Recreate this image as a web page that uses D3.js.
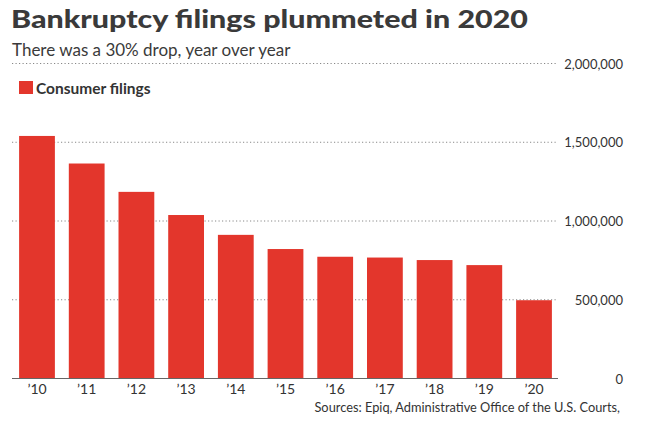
<!DOCTYPE html>
<html>
<head>
<meta charset="utf-8">
<script src="https://cdn.jsdelivr.net/npm/d3@7"></script>
<style>
  html, body { margin: 0; padding: 0; background: #fff; }
  svg { display: block; }
  text { font-family: Lato, "Open Sans", sans-serif; fill: #333; }
</style>
</head>
<body>
<svg id="chart" width="666" height="428"></svg>
<script>
const years = ["’10", "’11", "’12", "’13", "’14", "’15", "’16", "’17", "’18", "’19", "’20"];
const consumerFilings = [1540000, 1365000, 1185000, 1038000, 912000, 822000, 773000, 768000, 752000, 720000, 497000];
const yTicks = [0, 500000, 1000000, 1500000, 2000000];
const yTickLabels = ["0", "500,000", "1,000,000", "1,500,000", "2,000,000"];
const titleText = "Bankruptcy filings plummeted in 2020";
const subtitleText = "There was a 30% drop, year over year";
const legendText = "Consumer filings";
const sourceText = "Sources: Epiq, Administrative Office of the U.S. Courts,";

const svg = d3.select("#chart");
const barColor = "#e3362c";

const x = d3.scaleBand().domain(years).range([12, 559]).paddingInner(0.28).paddingOuter(0.143);
const y = d3.scaleLinear().domain([0, 2000000]).range([378.5, 63.5]);

// gridlines
svg.append("g").selectAll("line").data(yTicks.filter(d => d > 0)).join("line")
  .attr("x1", 12).attr("x2", 558)
  .attr("y1", d => y(d)).attr("y2", d => y(d))
  .attr("stroke", "#888").attr("stroke-width", 1).attr("stroke-dasharray", "1.2,2.3");

// bars
svg.append("g").selectAll("rect").data(consumerFilings).join("rect")
  .attr("x", (d, i) => x(years[i]))
  .attr("width", x.bandwidth())
  .attr("y", d => y(d))
  .attr("height", d => y(0) - y(d))
  .attr("fill", barColor);

// baseline
svg.append("line").attr("x1", 12).attr("x2", 558).attr("y1", y(0)).attr("y2", y(0))
  .attr("stroke", "#666").attr("stroke-width", 1.2);

// x axis labels
const xAxis = d3.axisBottom(x).tickSize(0).tickPadding(0);
const gx = svg.append("g").attr("transform", `translate(0, ${y(0) + 11})`).call(xAxis);
gx.select(".domain").remove();
gx.selectAll("text").attr("font-size", 14).attr("fill", "#333")
  .attr("font-family", "Lato, sans-serif").attr("dy", "0.3em").attr("y", 0);

// y labels
const yAxis = d3.axisRight(y).tickValues(yTicks).tickFormat((d, i) => yTickLabels[i]).tickSize(0).tickPadding(0);
const gy = svg.append("g").attr("transform", "translate(623, 0)").call(yAxis);
gy.select(".domain").remove();
gy.selectAll("text").attr("font-size", 13).attr("fill", "#333")
  .attr("font-family", "Lato, sans-serif").attr("text-anchor", "end").attr("x", 0).attr("dy", "0.35em");

// title
svg.append("text").attr("x", 11).attr("y", 27.5).attr("font-size", 25).attr("font-weight", 900)
  .attr("textLength", 517).attr("lengthAdjust", "spacingAndGlyphs")
  .style("fill", "#3a3a3a").text(titleText);
svg.append("text").attr("x", 12).attr("y", 56).attr("font-size", 17)
  .style("fill", "#3a3a3a").text(subtitleText);

// legend
svg.append("rect").attr("x", 19).attr("y", 81).attr("width", 14).attr("height", 13).attr("fill", barColor);
svg.append("text").attr("x", 36).attr("y", 94).attr("font-size", 15.5).attr("font-weight", 700)
  .style("fill", "#333").text(legendText);

// source
svg.append("text").attr("x", 620).attr("y", 411.5).attr("text-anchor", "end").attr("font-size", 12.8)
  .style("fill", "#333").text(sourceText);
</script>
</body>
</html>
